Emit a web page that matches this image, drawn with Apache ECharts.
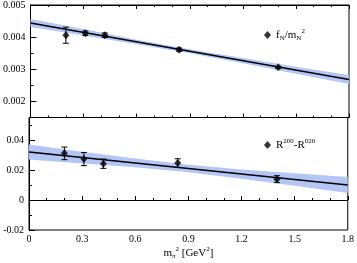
<!DOCTYPE html>
<html>
<head>
<meta charset="utf-8">
<script src="https://cdn.jsdelivr.net/npm/echarts@6/dist/echarts.min.js"></script>
<style>html,body{margin:0;padding:0;background:#fff;}#c{width:357px;height:263px;}</style>
</head>
<body>
<div id="c"></div>
<script>
// ---- data ----
const mpi2 = [0.20, 0.31, 0.42, 0.84, 1.40];
const fNmN2 = [0.00406, 0.00412, 0.00406, 0.00361, 0.00306];
const fNmN2Err = [0.00025, 0.00007, 0.00007, 0.00005, 0.00003];
const rDiff = [0.0311, 0.0273, 0.0242, 0.0246, 0.0139];
const rDiffErr = [0.0042, 0.0044, 0.0031, 0.0029, 0.0023];

const fitX = [0, 1.8];
const fNmN2Fit = [0.00444, 0.00268];
const rDiffFit = [0.032, 0.010];

const bandX = [0, 0.3, 0.6, 0.9, 1.2, 1.5, 1.8];
const fNmN2BandLo = [0.004315, 0.00405, 0.003782, 0.0035, 0.00319, 0.00286, 0.00254];
const fNmN2BandHi = [0.004565, 0.00425, 0.003918, 0.00362, 0.00335, 0.00308, 0.00282];
const rDiffBandLo = [0.027, 0.0244, 0.0218, 0.0185, 0.0142, 0.0095, 0.0046];
const rDiffBandHi = [0.037, 0.0322, 0.0276, 0.0235, 0.0204, 0.0179, 0.0154];

const xTicks = [0, 0.3, 0.6, 0.9, 1.2, 1.5, 1.8];
const topYTicks = [0.002, 0.003, 0.004, 0.005];
const botYTicks = [-0.02, 0, 0.02, 0.04];

// ---- chart ----
const FONT = 'Liberation Serif';
const BAND = '#b4c6f6';
const chart = echarts.init(document.getElementById('c'), null, {renderer: 'canvas'});

function errRender(params, api) {
  const x = api.value(0), y = api.value(1), e = api.value(2);
  const t = api.coord([x, y + e]), b = api.coord([x, y - e]);
  const hw = 3, st = {stroke: '#000', lineWidth: 1};
  return {type: 'group', children: [
    {type: 'line', shape: {x1: t[0], y1: t[1], x2: b[0], y2: b[1]}, style: st},
    {type: 'line', shape: {x1: t[0] - hw, y1: t[1], x2: t[0] + hw, y2: t[1]}, style: st},
    {type: 'line', shape: {x1: b[0] - hw, y1: b[1], x2: b[0] + hw, y2: b[1]}, style: st}
  ]};
}
function bandRender(xs, lo, hi) {
  return function (params, api) {
    if (params.dataIndex !== 0) return null;
    const pts = [];
    for (let i = 0; i < xs.length; i++) pts.push(api.coord([xs[i], hi[i]]));
    for (let i = xs.length - 1; i >= 0; i--) pts.push(api.coord([xs[i], lo[i]]));
    return {type: 'polygon', shape: {points: pts}, style: {fill: BAND, stroke: null}};
  };
}

const axLine = {show: true, lineStyle: {color: '#000', width: 1}};
function xAxisDef(grid, pos, labels) {
  return {
    type: 'value', gridIndex: grid, position: pos, min: 0, max: 1.8, interval: 0.3,
    axisLine: axLine, splitLine: {show: false},
    axisTick: {show: true, inside: true, length: 4, lineStyle: {color: '#000'}},
    minorTick: {show: true, splitNumber: 3, length: 2, lineStyle: {color: '#000'}},
    axisLabel: labels ? {show: true, margin: 4, fontFamily: FONT, fontSize: 10, color: '#000',
      customValues: xTicks, formatter: v => (Math.round(v * 10) / 10).toString()} : {show: false}
  };
}
const rich = {
  n: {fontFamily: FONT, fontSize: 11, color: '#000', lineHeight: 14, verticalAlign: 'middle'},
  sub: {fontFamily: FONT, fontSize: 7, color: '#000', lineHeight: 7, verticalAlign: 'bottom'},
  sup: {fontFamily: FONT, fontSize: 7, color: '#000', lineHeight: 7, verticalAlign: 'top'}
};

const option = {
  animation: false,
  backgroundColor: '#fff',
  grid: [
    {left: 29, top: 5, width: 320, height: 112.5, show: true, borderColor: '#000', borderWidth: 1},
    {left: 29, top: 117.5, width: 320, height: 112.5, show: true, borderColor: '#000', borderWidth: 1}
  ],
  legend: [
    {data: ['fN'], left: 259, top: 23, icon: 'diamond', itemWidth: 7, itemHeight: 8,
      selectedMode: false, textStyle: {rich: rich},
      formatter: () => '{n|f}{sub|N}{n|/m}{sub|N}{sup|2}'},
    {data: ['R'], left: 259, top: 133, icon: 'diamond', itemWidth: 7, itemHeight: 8,
      selectedMode: false, textStyle: {rich: rich},
      formatter: () => '{n|R}{sup|200}{n|-R}{sup|020}'}
  ],
  xAxis: [
    xAxisDef(0, 'bottom', false),
    xAxisDef(0, 'top', false),
    Object.assign(xAxisDef(1, 'bottom', true), {
      name: '{n|m}{sub|π}{sup|2}{n| [GeV}{sup|2}{n|]}',
      nameLocation: 'middle', nameGap: 16,
      nameTextStyle: {rich: rich}
    })
  ],
  yAxis: [
    {type: 'value', gridIndex: 0, position: 'left', min: 0.0015, max: 0.005, interval: 0.0005,
      axisLine: axLine, splitLine: {show: false},
      axisTick: {show: true, inside: true, length: 3, lineStyle: {color: '#000'}},
      axisLabel: {show: false}},
    {type: 'value', gridIndex: 0, position: 'left', offset: 0, min: 0.0015, max: 0.005,
      axisLine: axLine, splitLine: {show: false},
      axisTick: {show: true, inside: true, length: 6, customValues: topYTicks, lineStyle: {color: '#000'}},
      axisLabel: {show: true, margin: 5, fontFamily: FONT, fontSize: 10, color: '#000',
        customValues: topYTicks, formatter: v => v.toFixed(3)}},
    {type: 'value', gridIndex: 1, position: 'left', min: -0.02, max: 0.055, interval: 0.01,
      axisLine: axLine, splitLine: {show: false},
      axisTick: {show: true, inside: true, length: 3, lineStyle: {color: '#000'}},
      axisLabel: {show: false}},
    {type: 'value', gridIndex: 1, position: 'left', offset: 0, min: -0.02, max: 0.055,
      axisLine: axLine, splitLine: {show: false},
      axisTick: {show: true, inside: true, length: 6, customValues: botYTicks, lineStyle: {color: '#000'}},
      axisLabel: {show: true, margin: 5, fontFamily: FONT, fontSize: 10, color: '#000',
        customValues: botYTicks, formatter: v => Math.abs(v) < 1e-9 ? '0' : v.toFixed(2)}}
  ],
  series: [
    // bands
    {name: 'bandTop', type: 'custom', xAxisIndex: 0, yAxisIndex: 0, clip: true, silent: true,
      renderItem: bandRender(bandX, fNmN2BandLo, fNmN2BandHi), encode: {x: 0, y: 1},
      data: bandX.map((x, i) => [x, fNmN2BandLo[i], fNmN2BandHi[i]]), z: 1},
    {name: 'bandBot', type: 'custom', xAxisIndex: 2, yAxisIndex: 2, clip: true, silent: true,
      renderItem: bandRender(bandX, rDiffBandLo, rDiffBandHi), encode: {x: 0, y: 1},
      data: bandX.map((x, i) => [x, rDiffBandLo[i], rDiffBandHi[i]]), z: 1},
    // fit lines
    {name: 'fitTop', type: 'line', xAxisIndex: 0, yAxisIndex: 0, symbol: 'none',
      lineStyle: {color: '#000', width: 1.5}, data: fitX.map((x, i) => [x, fNmN2Fit[i]]), z: 2},
    {name: 'fitBot', type: 'line', xAxisIndex: 2, yAxisIndex: 2, symbol: 'none',
      lineStyle: {color: '#000', width: 1.5}, data: fitX.map((x, i) => [x, rDiffFit[i]]), z: 2},
    // error bars
    {name: 'errTop', type: 'custom', xAxisIndex: 0, yAxisIndex: 0, renderItem: errRender,
      encode: {x: 0, y: 1}, data: mpi2.map((x, i) => [x, fNmN2[i], fNmN2Err[i]]), z: 3},
    {name: 'errBot', type: 'custom', xAxisIndex: 2, yAxisIndex: 2, renderItem: errRender,
      encode: {x: 0, y: 1}, data: mpi2.map((x, i) => [x, rDiff[i], rDiffErr[i]]), z: 3},
    // points
    {name: 'fN', type: 'scatter', xAxisIndex: 0, yAxisIndex: 0, symbol: 'diamond', symbolSize: [7, 8],
      itemStyle: {color: '#000'}, data: mpi2.map((x, i) => [x, fNmN2[i]]), z: 4},
    {name: 'R', type: 'scatter', xAxisIndex: 2, yAxisIndex: 2, symbol: 'diamond', symbolSize: [7, 8],
      itemStyle: {color: '#000'}, data: mpi2.map((x, i) => [x, rDiff[i]]), z: 4}
  ]
};
chart.setOption(option);
</script>
</body>
</html>
